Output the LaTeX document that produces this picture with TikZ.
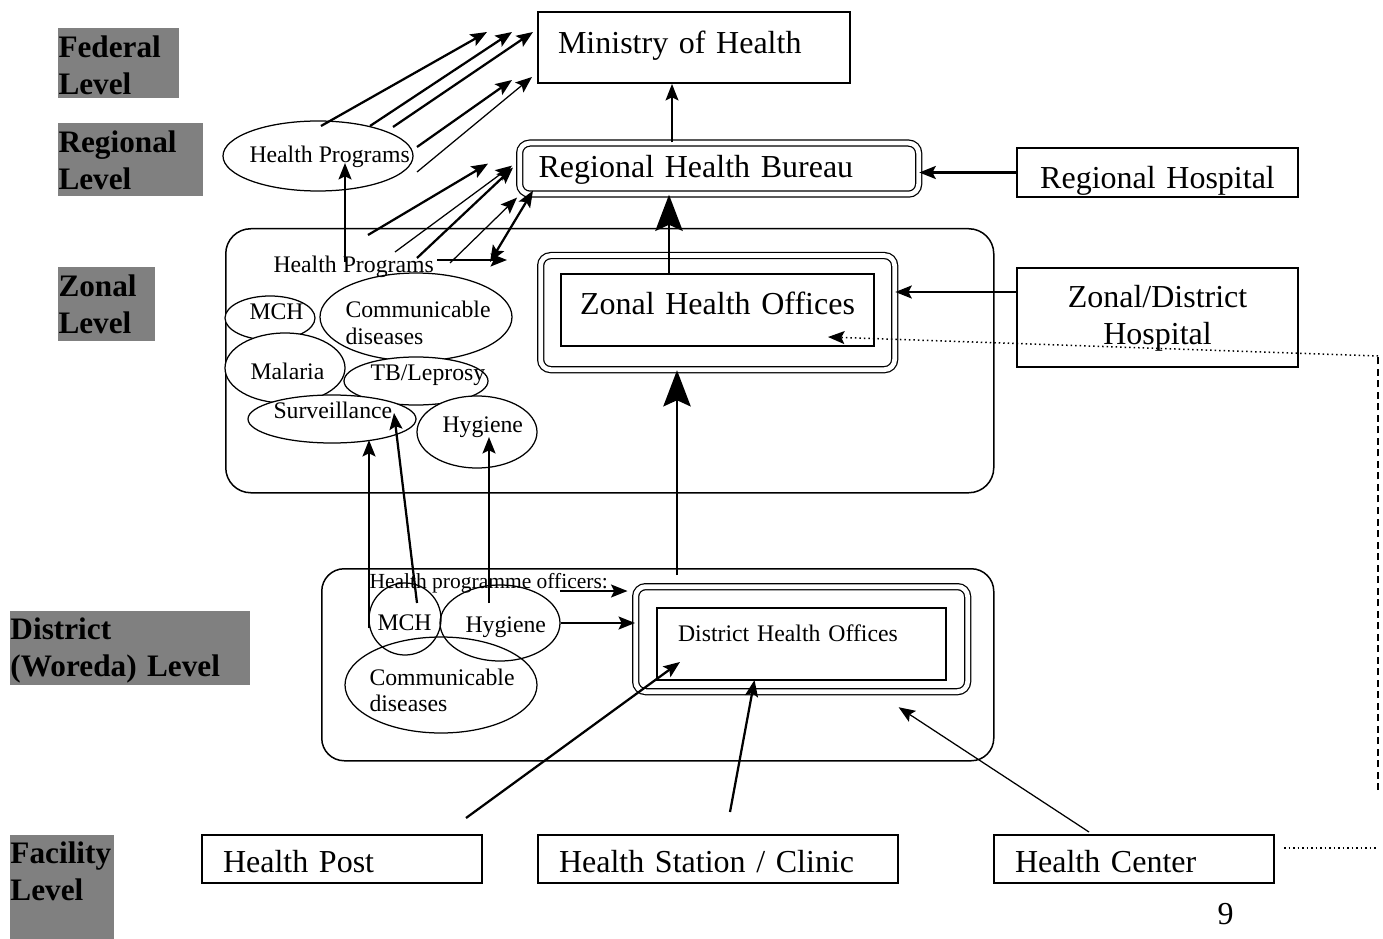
\documentclass[tikz,border=0pt]{standalone}
\usepackage{fontspec}
\setmainfont{Liberation Serif}
\usepackage{tikz}
\usetikzlibrary{arrows.meta,calc,shapes.geometric}
\definecolor{lvlGray}{HTML}{808080}
\newcommand{\upx}{0.4pt}
\newcommand{\bigfont}{\fontsize{12.8}{14.5}\selectfont}
\newcommand{\smallfont}{\fontsize{9.5}{10.6}\selectfont}
\newcommand{\tinyfont}{\fontsize{8.6}{10}\selectfont}
\newcommand{\lvlfont}{\fontsize{12.5}{14.8}\selectfont\bfseries}
\tikzset{
  lvl/.style    ={fill=lvlGray,font=\lvlfont,align=left,anchor=north west,
                  inner xsep=0.4pt,inner ysep=0pt,text height=11.6pt},
  box/.style    ={draw,line width=0.8pt,anchor=north west,font=\bigfont,
                  align=left,inner ysep=0pt},
  dbox/.style   ={draw,line width=0.5pt,double,double distance=1.9pt,
                  rounded corners=4pt,anchor=north west,inner sep=0pt},
  area/.style   ={draw,line width=0.6pt,anchor=north west,inner sep=0pt},
  oval/.style   ={ellipse,draw,line width=0.5pt,inner sep=0pt},
  zoval/.style  ={oval,fill=white},
  txt/.style    ={font=\smallfont,inner sep=0pt,anchor=base west},
  arr/.style    ={-{Stealth[length=6.6pt,width=5.2pt,inset=1.3pt]},line width=0.9pt},
  arrthin/.style={arr,line width=0.5pt},
  arrboth/.style={{Stealth[length=6.6pt,width=5.2pt,inset=1.3pt]}-{Stealth[length=6.6pt,width=5.2pt,inset=1.3pt]},
                  line width=0.9pt},
  arrbig/.style ={-{Stealth[length=14.5pt,width=11pt,inset=2.5pt]},line width=0.6pt},
  dots/.style   ={line width=0.6pt,dash pattern=on 0.6pt off 1.2pt},
  dotarr/.style ={dots,-{Stealth[length=6.6pt,width=5.2pt,inset=1.3pt]}},
  rim/.style    ={line width=0.8pt,dash pattern=on 2.8pt off 1.8pt},
}

\begin{document}
\begin{tikzpicture}[x=\upx, y=-\upx]
\useasboundingbox (0,0) rectangle (1383,938);

% ---- level tags down the left margin -------------------------------------
\node[lvl,minimum width=121*\upx,text width=47.6pt,text depth=16.4pt] (fedTag) at (57,28) {Federal\\Level};
\node[lvl,minimum width=145*\upx,text width=57.2pt,text depth=17.6pt] (regTag) at (57,123) {Regional\\Level};
\node[lvl,minimum width=97*\upx,text width=38pt,text depth=17.6pt] (zonTag) at (57,267) {Zonal\\Level};
\node[lvl,minimum width=240*\upx,text width=95.2pt,text depth=18pt] (disTag) at (9,610) {District\\(Woreda) Level};
\node[lvl,minimum width=104*\upx,text width=40.8pt,text depth=30pt] (facTag) at (9,834) {Facility\\Level};

% ---- zone and district frames --------------------------------------------
\node[area,rounded corners=10pt,minimum width=768*\upx,minimum height=264*\upx] (zoneArea) at (225,228) {};
\node[area,rounded corners=9pt,minimum width=672*\upx,minimum height=192*\upx] (distArea) at (321,568) {};

% ---- offices -------------------------------------------------------------
\node[box,minimum width=312*\upx,text width=108.8pt,inner xsep=8pt,
      text height=16.8pt,text depth=11.6pt] (moh) at (537,11) {Ministry of Health};
\node[dbox,font=\bigfont,align=left,minimum width=399*\upx,text width=144.4pt,inner xsep=7.6pt,
      text height=13.7pt,text depth=6.7pt] (rhb) at (519,142.5) {Regional Health Bureau};
\node[box,align=center,inner xsep=0pt,minimum width=281*\upx,text width=112.4pt,
      text height=16.4pt,text depth=3.2pt] (rhosp) at (1016,147) {Regional Hospital};
\node[dbox,minimum width=354*\upx,minimum height=114*\upx] (zho) at (540,255) {};
\node[box,align=center,inner xsep=0pt,minimum width=313*\upx,text width=125.2pt,
      text height=16.1pt,text depth=12.7pt] (zhoIn) at (560,273) {Zonal Health Offices};
\node[box,align=center,inner xsep=0pt,minimum width=281*\upx,text width=112.4pt,
      text height=15.9pt,text depth=23.7pt] (zdh) at (1016,267) {Zonal/District\\Hospital};
\node[dbox,minimum width=332*\upx,minimum height=105*\upx] (dho) at (635,586) {};
\node[box,font=\smallfont,minimum width=289*\upx,text width=98.8pt,inner xsep=8.4pt,
      text height=13.2pt,text depth=15.6pt] (dhoIn) at (656,607) {District Health Offices};

% ---- facilities ----------------------------------------------------------
% name/left/width/text width/label
\foreach \nm/\x/\w/\tw/\lab in {hpost/201/280/95.2/{Health Post},
    hstat/537/360/127.2/{Health Station / Clinic}, hcent/993/280/95.2/{Health Center}}{%
  \node[box,minimum width=\w*\upx,text width=\tw pt,inner xsep=8.4pt,
        text height=15.1pt,text depth=4.1pt] (\nm) at (\x,834) {\lab};
}

% ---- programme ovals -----------------------------------------------------
\node[oval,minimum width=190*\upx,minimum height=70*\upx] (rHP) at (318,156) {};
\foreach \nm/\x/\y/\w/\h in {zMCH/270/318/90/44, zComm/416/317/192/88, zMal/285/368/120/70,
    zTB/416/381/144/48, zSurv/332/419/168/48, zHyg/477/432/120/72}
  \node[zoval,minimum width=\w*\upx,minimum height=\h*\upx] (\nm) at (\x,\y) {};
\foreach \nm/\x/\y/\w/\h in {dComm/441/685/192/96, dMCH/405/619/72/72, dHyg/500/623/120/76}
  \node[oval,minimum width=\w*\upx,minimum height=\h*\upx] (\nm) at (\x,\y) {};

\node[txt] (rHPt) at (249,163) {Health Programs};
\node[txt] (zHP) at (273,273) {Health Programs};
\node[txt] (zMCHt) at (249,320) {MCH};
\node[txt,text width=60pt,align=left] (zCommT) at (345,318) {Communicable\\diseases};
\node[txt] (zMalT) at (250,379) {Malaria};
\node[txt] (zTBt) at (370,380) {TB/Leprosy};
\node[txt] (zSurvT) at (273,418) {Surveillance};
\node[txt] (zHygT) at (442,432) {Hygiene};
\node[txt,font=\tinyfont] (hpoT) at (369,588) {Health programme officers:};
\node[txt] (dMCHt) at (377,630) {MCH};
\node[txt] (dHygT) at (465,632) {Hygiene};
\node[txt,text width=60pt,align=left] (dCommT) at (369,685) {Communicable\\diseases};
\node[txt,font=\bigfont] (pageNo) at (1217,924) {9};

% ---- regional programmes report to the ministry --------------------------
\draw[arr]     ($(rHP.center)+(3,-30)$)  -- ($(moh.north west)+(-50,21)$);
\draw[arr]     ($(rHP.center)+(52,-30)$) -- ($(moh.north west)+(-25,21)$);
\draw[arr]     ($(rHP.center)+(75,-29)$) -- ($(moh.north west)+(-4,21)$);
\draw[arr]     ($(rHP.center)+(99,-9)$)  -- ($(moh.north west)+(-25,69)$);
\draw[arrthin] ($(rHP.center)+(99,16)$)  -- ($(moh.north west)+(-5,66)$);
\draw[arr]     ($(zHP.base west)+(72,-11)$) -- ($(rHP.center)+(27,7)$);

% ---- zonal programmes report to the bureau -------------------------------
\draw[arr]     ($(zHP.base west)+(95,-38)$)  -- ($(rhb.west)+(-31,-5)$);
\draw[arrthin] ($(zHP.base west)+(122,-21)$) -- ($(rhb.west)+(-7,-3)$);
\draw[arr]     ($(zHP.base west)+(144,-15)$) -- ($(rhb.west)+(-6,-1)$);
\draw[arrthin] ($(zHP.base west)+(177,-10)$) -- ($(rhb.west)+(-2,29)$);
\draw[arrboth] ($(zHP.base west)+(217,-11)$) -- ($(rhb.west)+(14,22)$);
\draw[arrthin] ($(zHP.base west)+(164,-13)$) -- ($(zHP.base west)+(234,-13)$);

% ---- office chain --------------------------------------------------------
\coordinate (rhbTop) at ($(rhb.north west)+(153,0)$);
\draw[arrthin] (rhbTop) -- (rhbTop |- moh.south);
\coordinate (zhoTop) at ($(zhoIn.north west)+(109,0)$);
\draw[arrbig,line width=0.7pt] (zhoTop) -- (zhoTop |- rhb.south);
\coordinate (dhoTop) at ($(dho.north west)+(42,-11)$);
\draw[arrbig] (dhoTop) -- (dhoTop |- zho.south);
\draw[arr] (rhosp.west) -- (rhosp.west -| rhb.east);
\coordinate (zdhIn) at ($(zdh.north west)+(0,25)$);
\draw[arr] (zdhIn) -- (zdhIn -| zho.east);

% ---- district officers to zonal programmes -------------------------------
\draw[arr] ($(dMCH.center)+(-36,9)$)  -- ($(zSurv.center)+(37,21)$);
\draw[arr] ($(dMCH.center)+(12,-16)$) -- ($(zSurv.center)+(62,-6)$);
\draw[arr] ($(dHyg.center)+(-11,-20)$) -- ($(zHyg.center)+(12,5)$);
\coordinate (hpoEnd) at ($(hpoT.base west)+(191,3)$);
\draw[arrthin,shorten >=3pt] (hpoEnd) -- (hpoEnd -| dho.west);
\draw[arr] (dHyg.east) -- (dHyg.east -| dho.west);

% ---- facilities report to the district -----------------------------------
\draw[arr]     ($(hpost.north)+(124,-16)$) -- ($(dhoIn.south west)+(24,-19)$);
\draw[arr]     ($(hstat.north)+(12,-22)$)  -- ($(dhoIn.south)+(-47,-1)$);
\draw[arrthin] ($(hcent.north)+(-45,-2)$)  -- ($(dho.south)+(97,15)$);

% ---- health center line round the right edge -----------------------------
\coordinate (hcDot) at ($(hcent.east)+(9,-11)$);
\coordinate (rimBot) at (1378,790);
\coordinate (rimTop) at (1378,356);
\draw[dots] (hcDot) -- ++(94,0);
\draw[rim] (rimBot) -- (rimTop);
\draw[dotarr] (rimTop) -- ($(zhoIn.south east)+(-47,-10)$);
\end{tikzpicture}
\end{document}
